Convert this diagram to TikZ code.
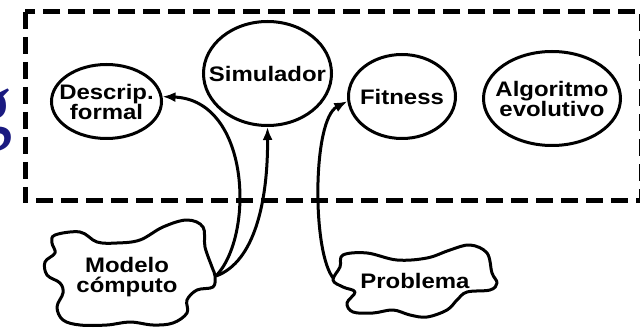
\documentclass[tikz,border=0pt]{standalone}
\usepackage{fontspec}
\setmainfont{Liberation Sans}[FakeStretch=1.14]
\newfontfamily\slideserif{Liberation Serif}
\usetikzlibrary{shapes.geometric,arrows.meta}
\definecolor{slideblue}{RGB}{26,26,128}
\tikzset{
  bubble/.style={draw,ellipse,line width=3pt,inner sep=0pt},
  lbl/.style={font=\fontsize{21}{20}\selectfont\bfseries,align=center,inner sep=0pt},
  blob/.style={line width=3pt,line join=round},
  flow/.style={line width=3pt,-{Latex[length=13pt,width=10pt]}},
}
\begin{document}
\begin{tikzpicture}[x=1pt,y=-1pt]
      \useasboundingbox (0,0) rectangle (640,331);
      % left-over letter of the slide
      \node[font=\slideserif\fontsize{87}{87}\selectfont,text=slideblue,anchor=base east,inner sep=0pt] (g) at (13,134) {g};
      % frame
      \draw[line width=5pt,dash pattern=on 17pt off 8pt] (25,12) rectangle (641,201);
      % blocks
      \node[bubble,minimum width=110,minimum height=74,label={[lbl]center:{Descrip.\\formal}}] (desc) at (106.5,101.5) {};
      \node[bubble,minimum width=128,minimum height=104,label={[lbl]center:Simulador}] (sim) at (267.5,73.5) {};
      \node[bubble,minimum width=107,minimum height=84,label={[lbl]center:Fitness}] (fit) at (402,96.5) {};
      \node[bubble,minimum width=137,minimum height=94,label={[lbl]center:{Algoritmo\\evolutivo}}] (algo) at (552,98.5) {};
      % clouds
      \draw[blob] plot[smooth cycle,tension=0.6] coordinates {(52,243) (55,235) (80,232) (97,242) (117,243) (140,240) (163,227) (187,220) (203,227) (205,247) (212,267) (215,276) (213,287) (197,290) (187,300) (187,313) (173,323) (153,325) (130,322) (107,325) (80,325) (63,320) (57,307) (63,293) (60,283) (47,275) (45,262) (55,253)};
      \node[lbl] (modelo) at (127,277) {Modelo\\cómputo};
      \coordinate (mout) at (216,276);
      \draw[blob] plot[smooth cycle,tension=0.6] coordinates {(343,255) (367,253) (397,260) (427,258) (450,250) (470,245) (487,253) (492,273) (497,283) (490,290) (467,292) (457,300) (447,310) (427,317) (410,315) (393,310) (373,313) (353,312) (347,303) (355,292) (343,287) (333,280) (340,267)};
      \node[lbl] (problema) at (415,281) {Problema};
      \coordinate (pout) at (334,279);
      % links
      \begin{scope}[flow]
        \draw (mout) .. controls (255,235) and (250,100) .. (desc.5);
        \draw (mout) .. controls (255,262) and (268,200) .. (sim.south);
        \draw (pout) .. controls (312,255) and (312,120) .. (fit.185);
      \end{scope}
\end{tikzpicture}
\end{document}
